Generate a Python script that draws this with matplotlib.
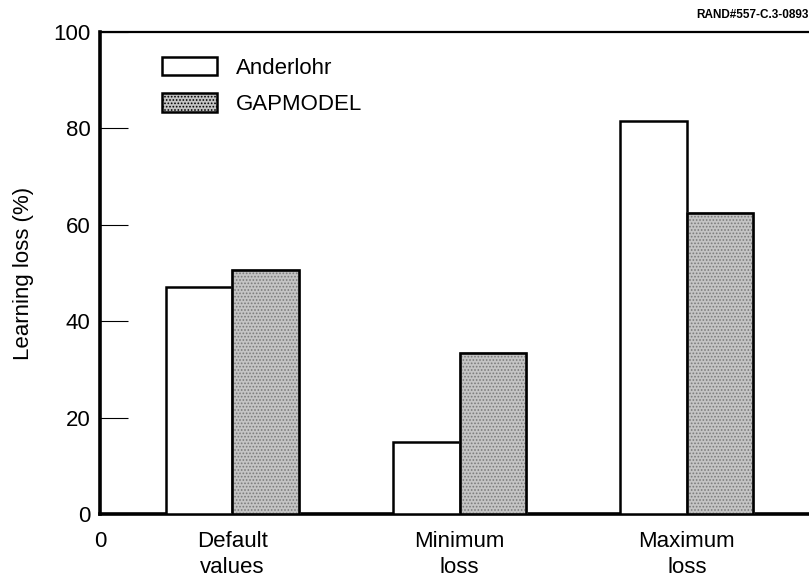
import matplotlib
matplotlib.use("Agg")
import matplotlib.pyplot as plt
import numpy as np

plt.rcParams['font.family'] = ['Liberation Sans', 'DejaVu Sans']
plt.rcParams['hatch.linewidth'] = 0.8

categories = ["Default\nvalues", "Minimum\nloss", "Maximum\nloss"]
anderlohr = [47, 15, 81.5]
gapmodel = [50.7, 33.3, 62.4]
yticks = [0, 20, 40, 60, 80, 100]

FS = 16

fig = plt.figure(figsize=(8.09, 5.77), dpi=100)
ax = fig.add_axes([100/809, 63/577, 709/809, 482/577])

x = np.arange(1, len(categories) + 1)
w = 0.293
ax.bar(x - w/2, anderlohr, w, facecolor='white', edgecolor='black',
       linewidth=1.8, label='Anderlohr', zorder=3)
ax.bar(x + w/2, gapmodel, w, facecolor='#c4c4c4', edgecolor='#7a7a7a',
       linewidth=1.8, hatch='.....', label='GAPMODEL', zorder=3)
ax.bar(x + w/2, gapmodel, w, facecolor='none', edgecolor='black',
       linewidth=1.8, zorder=4)

x0 = 1 - 132/227
ax.set_xlim(x0, 3 + (809-687)/227)
ax.set_ylim(0, 100)

ax.set_xticks([x0] + list(x))
ax.set_xticklabels(["0"] + categories, fontsize=FS, linespacing=1.35)
ax.tick_params(axis='x', length=0, pad=12)
ax.set_yticks(yticks)
ax.set_yticklabels([str(v) for v in yticks], fontsize=FS)
ax.tick_params(axis='y', direction='in', length=20, width=0.8, pad=7)

ax.spines['right'].set_visible(False)
ax.spines['left'].set_linewidth(2.6)
ax.spines['bottom'].set_linewidth(2.6)
ax.spines['top'].set_linewidth(1.6)

ax.set_ylabel("Learning loss (%)", fontsize=FS, labelpad=14)

leg = ax.legend(loc='upper left', bbox_to_anchor=(0.062, 0.985), frameon=False,
                fontsize=FS, handlelength=2.5, handleheight=0.9,
                handletextpad=0.85, labelspacing=0.65, borderpad=0.3)
for h in leg.legend_handles:
    h.set_edgecolor('black')
    h.set_linewidth(1.8)

fig.text(0.999, 0.974, "RAND#557-C.3-0893", ha='right', va='center',
         fontsize=8.5, fontweight='bold')

fig.savefig("out.png", dpi=100)
